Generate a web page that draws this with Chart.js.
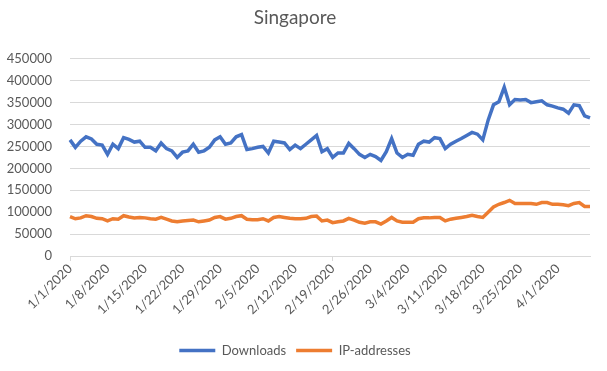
<!DOCTYPE html>
<html>
<head>
<meta charset="utf-8">
<script src="https://cdn.jsdelivr.net/npm/chart.js@4"></script>
<style>
  html, body { margin: 0; padding: 0; background: #fff; }
  #wrap { width: 607px; height: 371px; }
</style>
</head>
<body>
<div id="wrap"><canvas id="singapore"></canvas></div>
<script>
// daily values, in thousands, 1/1/2020 .. 4/7/2020
const downloadsJan = [265, 248, 262, 272, 267, 255, 253, 232, 255, 245, 270, 266, 260, 262, 248, 248, 240, 258, 245, 240, 225, 237, 240, 255, 237, 240, 248, 265, 272, 255, 258];
const downloadsFeb = [272, 277, 243, 245, 248, 250, 235, 262, 260, 258, 243, 253, 245, 255, 265, 275, 238, 245, 225, 235, 235, 257, 245, 232, 225, 232, 227, 218, 238];
const downloadsMar = [268, 235, 225, 232, 230, 255, 262, 260, 270, 268, 245, 255, 262, 268, 275, 282, 278, 265, 310, 345, 352, 385, 345, 357, 356, 357, 350, 352, 354, 345, 342];
const downloadsApr = [338, 335, 326, 345, 343, 320, 315];

const ipJan = [90, 85, 87, 92, 90, 86, 85, 80, 85, 84, 92, 89, 87, 88, 87, 85, 84, 88, 84, 80, 78, 80, 81, 82, 78, 80, 82, 88, 90, 84, 86];
const ipFeb = [90, 92, 84, 83, 83, 85, 80, 88, 90, 88, 86, 85, 85, 86, 90, 91, 80, 82, 76, 78, 80, 86, 82, 77, 75, 78, 78, 73, 80];
const ipMar = [88, 80, 77, 77, 77, 85, 87, 87, 88, 88, 80, 84, 86, 88, 90, 93, 90, 88, 100, 112, 118, 122, 127, 120, 120, 120, 120, 118, 122, 122, 118];
const ipApr = [118, 117, 115, 120, 122, 113, 113];

const monthDays = [31, 29, 31, 7];
const yTicks = [0, 50000, 100000, 150000, 200000, 250000, 300000, 350000, 400000, 450000];

let dates = [];
monthDays.forEach((n, m) => {
  for (let d = 1; d <= n; d++) dates.push((m + 1) + "/" + d + "/2020");
});

const downloads = [...downloadsJan, ...downloadsFeb, ...downloadsMar, ...downloadsApr].map((v) => v * 1000);
const ipAddresses = [...ipJan, ...ipFeb, ...ipMar, ...ipApr].map((v) => v * 1000);

const grey = "#595959";
const font = { family: "Lato, 'Open Sans', sans-serif", size: 13 };

new Chart(document.getElementById("singapore"), {
  type: "line",
  data: {
    labels: dates,
    datasets: [
      {
        label: "Downloads",
        data: downloads,
        borderColor: "#4472C4",
        backgroundColor: "#4472C4",
        borderWidth: 3.5,
        pointRadius: 0,
        tension: 0,
      },
      {
        label: "IP-addresses",
        data: ipAddresses,
        borderColor: "#ED7D31",
        backgroundColor: "#ED7D31",
        borderWidth: 3.5,
        pointRadius: 0,
        tension: 0,
      },
    ],
  },
  options: {
    responsive: true,
    maintainAspectRatio: false,
    animation: false,
    layout: { padding: { top: 0, right: 17, bottom: 4, left: 0 } },
    plugins: {
      title: {
        display: true,
        text: "Singapore",
        color: grey,
        font: { family: font.family, size: 19, weight: "normal" },
        padding: { top: 6, bottom: 30 },
      },
      legend: {
        position: "bottom",
        labels: {
          color: grey,
          font: font,
          usePointStyle: true,
          pointStyle: "line",
          pointStyleWidth: 36,
          padding: 10,
        },
      },
      tooltip: { enabled: false },
    },
    scales: {
      x: {
        offset: false,
        afterFit: (scale) => {
          scale.height = 78;
        },
        grid: {
          drawOnChartArea: false,
          drawTicks: true,
          tickLength: 5,
          color: (ctx) => (ctx.index % 7 === 0 ? "#d9d9d9" : "transparent"),
        },
        border: { color: "#d9d9d9" },
        ticks: {
          autoSkip: false,
          maxRotation: 45,
          minRotation: 45,
          color: grey,
          font: font,
          padding: 0,
          callback: function (value, index) {
            return index % 7 === 0 ? dates[index] : null;
          },
        },
      },
      y: {
        min: 0,
        max: 450000,
        afterFit: (scale) => {
          scale.width = 70;
        },
        afterBuildTicks: (scale) => {
          scale.ticks = yTicks.map((v) => ({ value: v }));
        },
        grid: { color: "#d9d9d9", drawTicks: false },
        border: { display: false },
        ticks: {
          color: grey,
          font: font,
          padding: 18,
          callback: (value) => String(value),
        },
      },
    },
  },
});
</script>
</body>
</html>
